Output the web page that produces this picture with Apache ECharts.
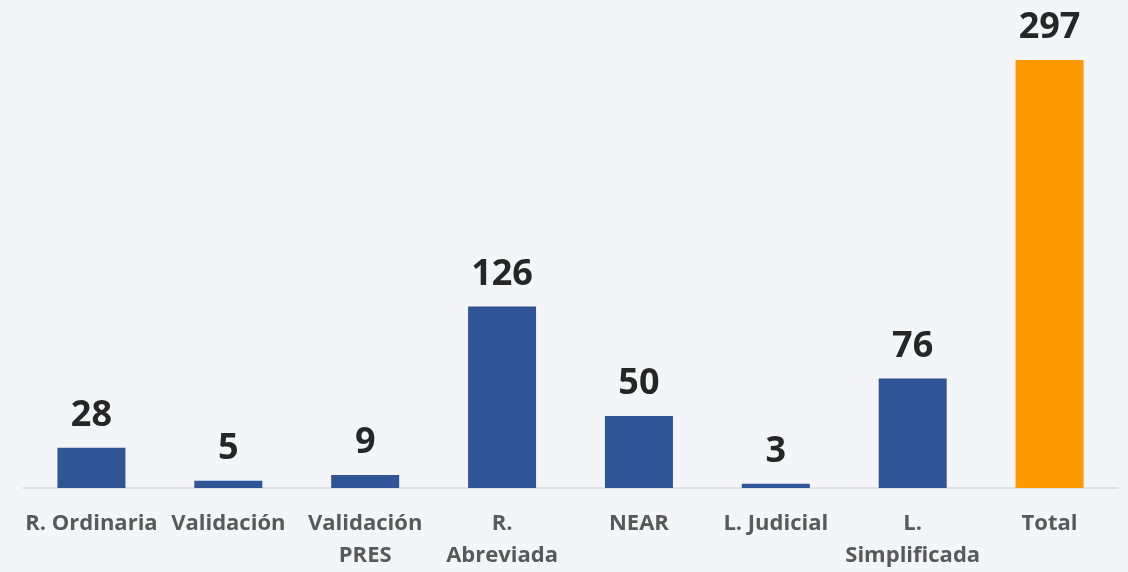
<!DOCTYPE html>
<html>
<head>
<meta charset="utf-8">
<script src="https://cdn.jsdelivr.net/npm/echarts@6/dist/echarts.min.js"></script>
<style>
html,body{margin:0;padding:0;background:#f4f5f8;}
#chart{width:1128px;height:572px;}
</style>
</head>
<body>
<div id="chart"></div>
<script>
const categories = ['R. Ordinaria', 'Validación', 'Validación\nPRES', 'R.\nAbreviada', 'NEAR', 'L. Judicial', 'L.\nSimplificada', 'Total'];
const values = [28, 5, 9, 126, 50, 3, 76, 297];
const barColors = ['#2f5597', '#2f5597', '#2f5597', '#2f5597', '#2f5597', '#2f5597', '#2f5597', '#ff9900'];

const chart = echarts.init(document.getElementById('chart'), null, {renderer: 'canvas'});
chart.setOption({
  backgroundColor: '#f4f5f8',
  animation: false,
  grid: {left: 23, right: 10, top: 60, bottom: 82, containLabel: false},
  xAxis: {
    type: 'category',
    data: categories,
    axisLine: {show: true, lineStyle: {color: '#d9d9d9', width: 1.5}},
    axisTick: {show: false},
    axisLabel: {
      interval: 0,
      margin: 20,
      fontFamily: 'Open Sans',
      fontWeight: 'bold',
      fontSize: 22,
      lineHeight: 32,
      color: '#595959'
    }
  },
  yAxis: {
    type: 'value',
    min: 0,
    max: 297,
    show: false,
    splitLine: {show: false}
  },
  series: [{
    type: 'bar',
    barWidth: 68,
    data: values.map((v, i) => ({value: v, itemStyle: {color: barColors[i]}})),
    label: {
      show: true,
      position: 'top',
      distance: 14,
      fontFamily: 'Open Sans',
      fontWeight: 'bold',
      fontSize: 36,
      color: '#262626'
    }
  }]
});
</script>
</body>
</html>
